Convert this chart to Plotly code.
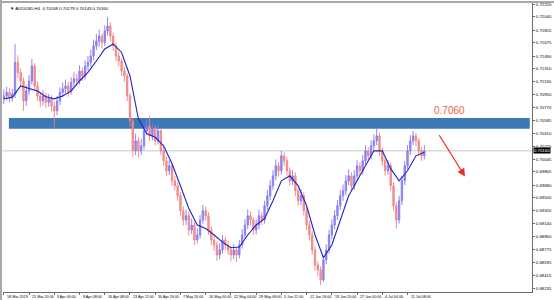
import plotly.graph_objects as go

# ---------------- data (AUDUSD) ----------------
opens = [0.7089,0.7093,0.7098,0.7091,0.7096,0.7140,0.7126,0.7114,0.7086,0.7100,
         0.7114,0.7135,0.7107,0.7093,0.7086,0.7093,0.7084,0.7089,0.7079,0.7072,
         0.7086,0.7098,0.7103,0.7107,0.7100,0.7112,0.7117,0.7114,0.7128,0.7121,
         0.7135,0.7140,0.7149,0.7163,0.7170,0.7177,0.7168,0.7184,0.7191,0.7177,
         0.7163,0.7149,0.7142,0.7128,0.7121,0.7093,0.7058,0.7016,0.7030,0.7016,
         0.7023,0.7044,0.7051,0.7037,0.7047,0.7030,0.7044,0.7016,0.7002,0.6988,
         0.6995,0.6974,0.6967,0.6953,0.6932,0.6919,0.6925,0.6905,0.6912,0.6891,
         0.6898,0.6919,0.6932,0.6925,0.6905,0.6891,0.6884,0.6870,0.6877,0.6891,
         0.6884,0.6877,0.6870,0.6877,0.6870,0.6884,0.6898,0.6912,0.6925,0.6919,
         0.6905,0.6912,0.6925,0.6919,0.6939,0.6953,0.6967,0.6981,0.6995,0.6988,
         0.7009,0.7002,0.6988,0.6974,0.6981,0.6960,0.6946,0.6953,0.6932,0.6912,
         0.6898,0.6877,0.6856,0.6849,0.6835,0.6863,0.6877,0.6898,0.6912,0.6925,
         0.6939,0.6953,0.6960,0.6974,0.6981,0.6967,0.6981,0.6995,0.6988,0.7002,
         0.7016,0.7009,0.7023,0.7030,0.7037,0.7016,0.7002,0.6988,0.6995,0.6967,
         0.6939,0.6919,0.6946,0.6974,0.6995,0.7016,0.7030,0.7037,0.7030,0.7016,
         0.7009]
highs = [0.7102,0.7106,0.7104,0.7103,0.7166,0.7150,0.7132,0.7119,0.7108,0.7122,
         0.7145,0.7139,0.7113,0.7099,0.7101,0.7098,0.7096,0.7094,0.7085,0.7093,
         0.7105,0.7112,0.7116,0.7113,0.7119,0.7126,0.7124,0.7136,0.7133,0.7143,
         0.7149,0.7158,0.7172,0.7180,0.7186,0.7181,0.7192,0.7204,0.7196,0.7182,
         0.7168,0.7155,0.7146,0.7134,0.7125,0.7097,0.7062,0.7040,0.7035,0.7033,
         0.7052,0.7060,0.7065,0.7055,0.7052,0.7053,0.7048,0.7022,0.7008,0.7003,
         0.6999,0.6981,0.6972,0.6958,0.6938,0.6934,0.6930,0.6921,0.6917,0.6907,
         0.6926,0.6940,0.6938,0.6930,0.6910,0.6897,0.6889,0.6886,0.6898,0.6896,
         0.6890,0.6882,0.6885,0.6881,0.6891,0.6906,0.6920,0.6934,0.6931,0.6923,
         0.6920,0.6933,0.6930,0.6946,0.6961,0.6975,0.6989,0.7004,0.7000,0.7016,
         0.7014,0.7007,0.6993,0.6989,0.6986,0.6965,0.6962,0.6958,0.6937,0.6918,
         0.6903,0.6882,0.6861,0.6854,0.6869,0.6885,0.6905,0.6920,0.6933,0.6947,
         0.6961,0.6969,0.6982,0.6990,0.6986,0.6989,0.7003,0.7000,0.7010,0.7024,
         0.7021,0.7031,0.7039,0.7047,0.7041,0.7021,0.7007,0.7003,0.6999,0.6972,
         0.6944,0.6953,0.6981,0.7002,0.7024,0.7038,0.7044,0.7041,0.7034,0.7021,
         0.7024]
lows = [0.7082,0.7087,0.7084,0.7085,0.7090,0.7118,0.7106,0.7072,0.7079,0.7094,
        0.7109,0.7100,0.7086,0.7078,0.7080,0.7076,0.7078,0.7071,0.7049,0.7066,
        0.7080,0.7091,0.7097,0.7092,0.7095,0.7106,0.7107,0.7109,0.7114,0.7116,
        0.7129,0.7134,0.7143,0.7157,0.7162,0.7160,0.7163,0.7178,0.7170,0.7156,
        0.7142,0.7134,0.7121,0.7113,0.7086,0.7050,0.7008,0.7010,0.7007,0.7010,
        0.7018,0.7038,0.7030,0.7031,0.7024,0.7025,0.7010,0.6995,0.6981,0.6982,
        0.6967,0.6960,0.6946,0.6925,0.6911,0.6912,0.6897,0.6899,0.6884,0.6886,
        0.6893,0.6914,0.6918,0.6898,0.6884,0.6876,0.6862,0.6864,0.6872,0.6877,
        0.6870,0.6861,0.6864,0.6860,0.6865,0.6879,0.6893,0.6906,0.6911,0.6898,
        0.6899,0.6906,0.6912,0.6914,0.6933,0.6947,0.6961,0.6975,0.6980,0.6983,
        0.6995,0.6981,0.6967,0.6968,0.6953,0.6939,0.6940,0.6925,0.6905,0.6890,
        0.6870,0.6848,0.6840,0.6828,0.6832,0.6857,0.6872,0.6892,0.6906,0.6919,
        0.6933,0.6946,0.6954,0.6968,0.6960,0.6961,0.6975,0.6981,0.6983,0.6996,
        0.7002,0.7004,0.7017,0.7024,0.7009,0.6995,0.6981,0.6982,0.6960,0.6932,
        0.6907,0.6914,0.6940,0.6968,0.6990,0.7010,0.7024,0.7022,0.7009,0.7002,
        0.7004]
closes = [0.7093,0.7098,0.7091,0.7096,0.7140,0.7126,0.7114,0.7086,0.7100,0.7114,
          0.7135,0.7107,0.7093,0.7086,0.7093,0.7084,0.7089,0.7079,0.7072,0.7086,
          0.7098,0.7103,0.7107,0.7100,0.7112,0.7117,0.7114,0.7128,0.7121,0.7135,
          0.7140,0.7149,0.7163,0.7170,0.7177,0.7168,0.7184,0.7191,0.7177,0.7163,
          0.7149,0.7142,0.7128,0.7121,0.7093,0.7058,0.7016,0.7030,0.7016,0.7023,
          0.7044,0.7051,0.7037,0.7047,0.7030,0.7044,0.7016,0.7002,0.6988,0.6995,
          0.6974,0.6967,0.6953,0.6932,0.6919,0.6925,0.6905,0.6912,0.6891,0.6898,
          0.6919,0.6932,0.6925,0.6905,0.6891,0.6884,0.6870,0.6877,0.6891,0.6884,
          0.6877,0.6870,0.6877,0.6870,0.6884,0.6898,0.6912,0.6925,0.6919,0.6905,
          0.6912,0.6925,0.6919,0.6939,0.6953,0.6967,0.6981,0.6995,0.6988,0.7009,
          0.7002,0.6988,0.6974,0.6981,0.6960,0.6946,0.6953,0.6932,0.6912,0.6898,
          0.6877,0.6856,0.6849,0.6835,0.6863,0.6877,0.6898,0.6912,0.6925,0.6939,
          0.6953,0.6960,0.6974,0.6981,0.6967,0.6981,0.6995,0.6988,0.7002,0.7016,
          0.7009,0.7023,0.7030,0.7037,0.7016,0.7002,0.6988,0.6995,0.6967,0.6939,
          0.6919,0.6946,0.6974,0.6995,0.7016,0.7030,0.7037,0.7030,0.7016,0.7009,
          0.7016]
# moving average, read every 3rd bar
ma_step = 3
ma_values = [0.7089,0.7091,0.7107,0.7103,0.7100,0.7092,0.7089,0.7093,0.7100,0.7114,
             0.7126,0.7142,0.7159,0.7166,0.7154,0.7121,0.7061,0.7040,0.7035,0.7023,
             0.6998,0.6967,0.6935,0.6912,0.6907,0.6898,0.6888,0.6880,0.6881,0.6898,
             0.6912,0.6921,0.6946,0.6974,0.6981,0.6967,0.6939,0.6898,0.6866,0.6884,
             0.6919,0.6953,0.6974,0.6995,0.7016,0.7016,0.6991,0.6974,0.6988,0.7009,
             0.7014]
x_labels = ["18 Mar 2019", "25 Mar 20:00", "3 Apr 00:00", "9 Apr 08:00", "16 Apr 08:00",
            "23 Apr 12:00", "30 Apr 16:00", "7 May 20:00", "16 May 00:00", "22 May 04:00",
            "29 May 08:00", "5 Jun 12:00", "12 Jun 16:00", "19 Jun 20:00", "27 Jun 00:00",
            "4 Jul 04:00", "11 Jul 08:00"]
label_step = 9
y_ticks = [0.72220, 0.72040, 0.71855, 0.71675, 0.71490, 0.71310, 0.71130, 0.70950,
           0.70770, 0.70585, 0.70410, 0.70225, 0.70045, 0.69865, 0.69680, 0.69500,
           0.69320, 0.69140, 0.68960, 0.68775, 0.68595, 0.68415, 0.68235]
zone_low, zone_high = 0.7047, 0.7062
zone_text = "0.7060"
title_text = "AUDUSD,H4  0.70168 0.70179 0.70143 0.70160"

# ---------------- layout constants ----------------
X_MAX = 188.4
Y_RANGE = [0.6818, 0.72234]
ZONE_X = [1.8, 187.6]
LABEL_POS = (158.9, 0.7073)
ARROW_TAIL = (155.0, 0.7040)
ARROW_HEAD = (164.5, 0.6980)

n = len(closes)
xs = list(range(n))
ma_x = list(range(0, n, ma_step))[:len(ma_values)]
tick_x = [i * label_step for i in range(len(x_labels))]

fig = go.Figure()
fig.add_trace(go.Candlestick(
    x=xs, open=opens, high=highs, low=lows, close=closes,
    increasing=dict(line=dict(color="#8478f0", width=0.9), fillcolor="#978ff2"),
    decreasing=dict(line=dict(color="#f08282", width=0.9), fillcolor="#f49a9a"),
    whiskerwidth=0, hoverinfo="skip", showlegend=False))
fig.add_trace(go.Scatter(x=ma_x, y=ma_values, mode="lines",
                         line=dict(color="#1f22c8", width=1.1),
                         hoverinfo="skip", showlegend=False))

shapes = [
    dict(type="rect", xref="x", yref="y", x0=ZONE_X[0], x1=ZONE_X[1],
         y0=zone_low, y1=zone_high, fillcolor="#3b79b7",
         line=dict(color="#3b79b7", width=0), layer="below"),
    dict(type="line", xref="paper", yref="y", x0=0, x1=1,
         y0=closes[-1], y1=closes[-1], line=dict(color="#c8c8c8", width=1), layer="below"),
    # window frame
    dict(type="rect", xref="paper", yref="paper", x0=-3/532, x1=-1/532, y0=-0.05, y1=1.01,
         fillcolor="#a8a8a8", line=dict(width=0)),
    dict(type="rect", xref="paper", yref="paper", x0=-0.01, x1=1.05, y0=1.0, y1=1.0 + 2/290,
         fillcolor="#a8a8a8", line=dict(width=0)),
]

annotations = [
    dict(x=LABEL_POS[0], y=LABEL_POS[1], xref="x", yref="y", text=zone_text,
         showarrow=False, font=dict(family="Liberation Sans", size=10, color="#f0614a"),
         xanchor="center", yanchor="middle"),
    dict(x=ARROW_HEAD[0], y=ARROW_HEAD[1], ax=ARROW_TAIL[0], ay=ARROW_TAIL[1],
         xref="x", yref="y", axref="x", ayref="y", text="", showarrow=True,
         arrowhead=2, arrowsize=1.3, arrowwidth=1.2, arrowcolor="#e82a20"),
    dict(x=0.01, y=0.995, xref="paper", yref="paper", text="\u25bc " + title_text,
         showarrow=False, xanchor="left", yanchor="top",
         font=dict(family="Liberation Sans", size=4.3, color="#000000")),
    dict(x=1.0, y=closes[-1], xref="paper", yref="y", text=f"{closes[-1]:.5f}",
         showarrow=False, xanchor="left", yanchor="middle", xshift=1,
         bgcolor="#000000", font=dict(family="Liberation Sans", size=4.3, color="#ffffff"),
         borderpad=0),
]
for tx, lab in zip(tick_x, x_labels):
    annotations.append(dict(x=tx, y=0, xref="x", yref="paper", text=lab, showarrow=False,
                            xanchor="left", yanchor="top", xshift=1, yshift=-1,
                            font=dict(family="Liberation Sans", size=3.7, color="#000000")))

fig.update_layout(
    width=554, height=300,
    margin=dict(l=3, r=19, t=2, b=8),
    paper_bgcolor="#ffffff", plot_bgcolor="#ffffff",
    shapes=shapes, annotations=annotations,
    xaxis=dict(range=[-0.3, X_MAX], rangeslider=dict(visible=False),
               showgrid=False, zeroline=False, showline=True, linecolor="#6e6e6e",
               linewidth=1, ticks="outside", ticklen=2, tickcolor="#6e6e6e",
               tickvals=tick_x, showticklabels=False, fixedrange=True),
    yaxis=dict(range=Y_RANGE, side="right", showgrid=False, zeroline=False,
               showline=True, linecolor="#6e6e6e", linewidth=1,
               ticks="outside", ticklen=2, tickcolor="#6e6e6e",
               tickvals=y_ticks, ticktext=[f"{v:.5f}" for v in y_ticks],
               tickfont=dict(family="Liberation Sans", size=4.3, color="#000000"),
               fixedrange=True),
    font=dict(family="Liberation Sans"),
)

fig.write_html("out.html", config={"displayModeBar": False})
